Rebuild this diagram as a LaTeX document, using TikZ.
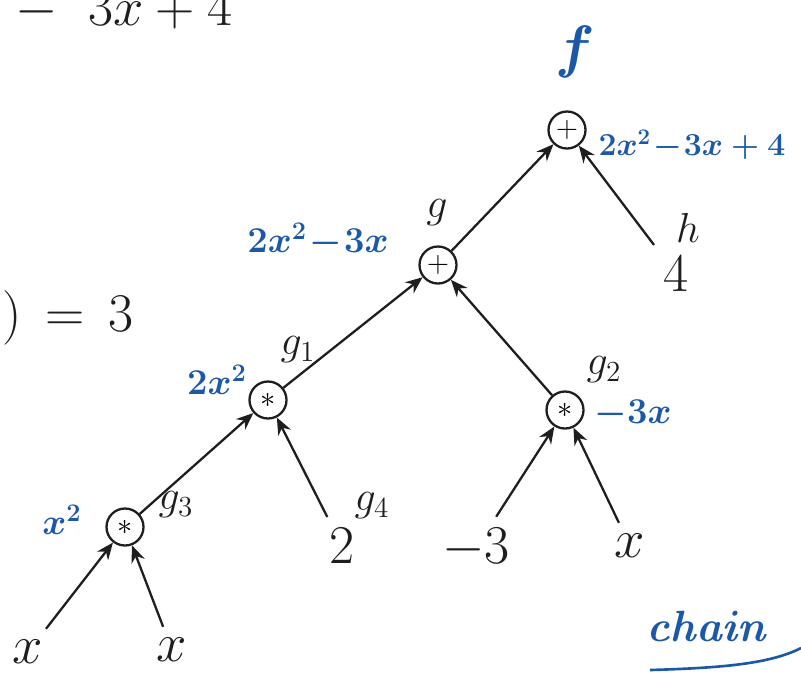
\documentclass[tikz,border=0pt]{standalone}
\usepackage{amsmath}
\usetikzlibrary{arrows.meta,positioning}
\definecolor{ink_blue}{RGB}{28,88,168}
\definecolor{ink_black}{RGB}{30,30,30}

\begin{document}
\begin{tikzpicture}[x=0.02cm, y=-0.02cm, font=\huge,
    op/.style={draw=ink_black, line width=1.3pt, circle, minimum size=0.74cm, inner sep=0pt, font=\LARGE},
    leaf/.style={ink_black, inner sep=5pt, font=\Huge, scale=1.25},
    val/.style={ink_blue, font=\huge\boldmath},
    tag/.style={ink_black, font=\huge, scale=1.15},
    edge/.style={ink_black, line width=1.3pt, -{Stealth[length=3.4mm,width=2.8mm]}}]
        \useasboundingbox (0,0) rectangle (801,674);
        % fragments cut at the page border
        \node[tag, scale=1.3] (topeq) at (124,10) {$-\;\;3x+4$};
        \node[tag, scale=1.3] (lefteq) at (68,318) {$)\,=\,3$};
        % operator nodes
        \node[op] (root) at (567,130) {$+$};
        \node[op] (g) at (438,265) {$+$};
        \node[op] (g1) at (268,400) {$*$};
        \node[op] (g2) at (565,410) {$*$};
        \node[op] (g3) at (125,527) {$*$};
        % leaves
        \node[leaf] (h) at (676,274) {$4$};
        \node[leaf] (c2) at (342,546) {$2$};
        \node[leaf] (m3) at (476,548) {$-3$};
        \node[leaf] (xr) at (630,546) {$x$};
        \node[leaf] (xa) at (28,652) {$x$};
        \node[leaf] (xb) at (172,650) {$x$};
        % names
        \node[val, scale=1.6] (fname) at (575,52) {$f$};
        \node[tag] (hname) at (688,228) {$h$};
        \node[tag] (gname) at (437,213) {$g$};
        \node[tag] (g1name) at (298,350) {$g_1$};
        \node[tag] (g2name) at (604,370) {$g_2$};
        \node[tag] (g3name) at (176,505) {$g_3$};
        \node[tag] (g4name) at (372,506) {$g_4$};
        % values
        \node[val, scale=0.88] (rootval) at (692,145) {$2x^2\!-\!3x+4$};
        \node[val] (gval) at (318,240) {$2x^2\!-\!3x$};
        \node[val] (g1val) at (217,380) {$2x^2$};
        \node[val] (g2val) at (633,414) {$-3x$};
        \node[val] (g3val) at (62,520) {$x^2$};
        \node[val, scale=1.2] (chainlbl) at (708,626) {$\mathit{chain}$};
        \draw[ink_blue, line width=1.5pt] (650,670) .. controls (720,668) and (770,664) .. (801,648);
        % edges towards the parents
        \draw[edge] (g) -- (root);
        \draw[edge] (h) -- (root);
        \draw[edge] (g1) -- (g);
        \draw[edge] (g2) -- (g);
        \draw[edge] (g3) -- (g1);
        \draw[edge] (c2) -- (g1);
        \draw[edge] (m3) -- (g2);
        \draw[edge] (xr) -- (g2);
        \draw[edge] (xa) -- (g3);
        \draw[edge] (xb) -- (g3);
\end{tikzpicture}
\end{document}
